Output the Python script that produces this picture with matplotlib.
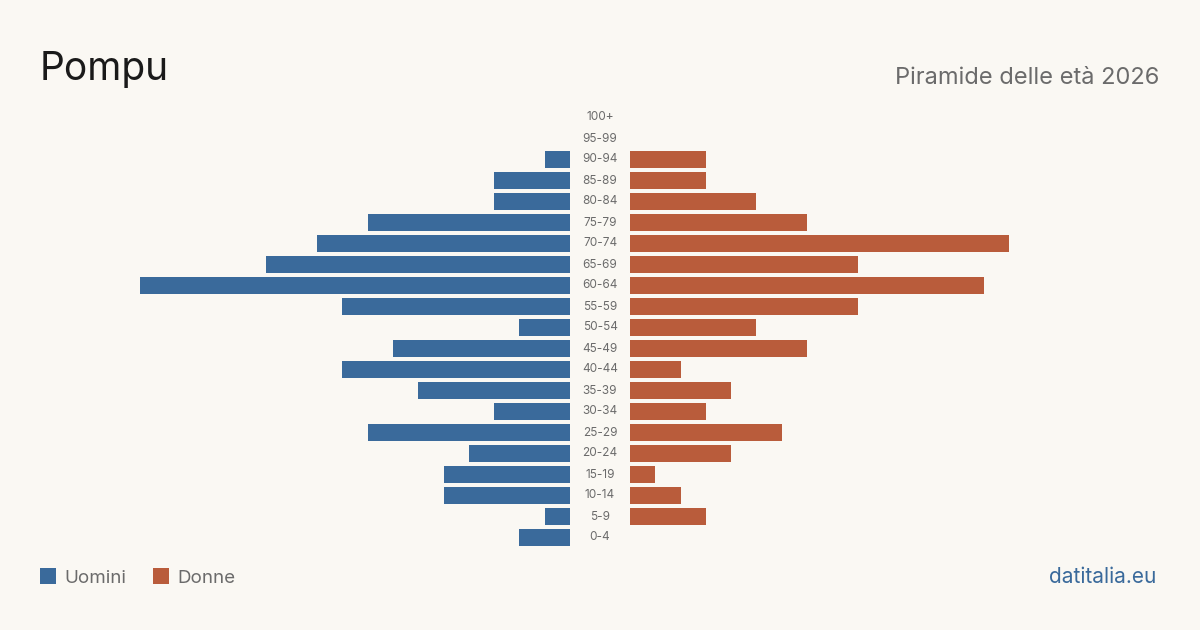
import matplotlib
matplotlib.use("Agg")
import matplotlib.pyplot as plt
from matplotlib.patches import Rectangle

age_groups = ["0-4", "5-9", "10-14", "15-19", "20-24", "25-29", "30-34", "35-39",
              "40-44", "45-49", "50-54", "55-59", "60-64", "65-69", "70-74", "75-79",
              "80-84", "85-89", "90-94", "95-99", "100+"]
men = [2, 1, 5, 5, 4, 8, 3, 6, 9, 7, 2, 9, 17, 12, 10, 8, 3, 3, 1, 0, 0]
women = [0, 3, 2, 1, 4, 6, 3, 4, 2, 7, 5, 9, 14, 9, 15, 7, 5, 3, 3, 0, 0]

BG = "#faf8f3"
BLUE = "#3a6a9b"
ORANGE = "#b95c3b"
GRAY = "#6b6b6b"

plt.rcParams['font.family'] = ['Inter', 'DejaVu Sans']

W, H = 1200, 630
fig = plt.figure(figsize=(12, 6.3), dpi=100, facecolor=BG)

def fx(px):
    return px / W

def fy(py):
    return 1 - py / H

n = len(age_groups)
top, bottom = 106.5, 106.5 + 21 * n
vmax = max(max(men), max(women))

axL = fig.add_axes([fx(140), fy(bottom), fx(570 - 140), (bottom - top) / H])
axR = fig.add_axes([fx(630), fy(bottom), fx(1060 - 630), (bottom - top) / H])
ypos = list(range(n))
axL.barh(ypos, men, height=17 / 21, color=BLUE)
axR.barh(ypos, women, height=17 / 21, color=ORANGE)
axL.set_xlim(vmax, 0)
axR.set_xlim(0, vmax)
for ax in (axL, axR):
    ax.set_ylim(-0.5, n - 0.5)
    ax.axis("off")
    ax.set_facecolor("none")

# age labels centered between the two halves
for i, lab in enumerate(age_groups):
    y_px = top + 21 * (n - 1 - i) + 11
    fig.text(fx(600), fy(y_px), lab, ha="center", va="center", fontsize=8.5, color=GRAY)

fig.text(fx(40), fy(80), "Pompu", ha="left", va="baseline", fontsize=28, color="#1a1a1a")
fig.text(fx(1159), fy(84), "Piramide delle età 2026", ha="right", va="baseline",
         fontsize=17, color=GRAY)

# legend
fig.patches.append(Rectangle((fx(40), fy(584)), fx(16), 16 / H, transform=fig.transFigure,
                             facecolor=BLUE, edgecolor="none"))
fig.text(fx(64), fy(583), "Uomini", ha="left", va="baseline", fontsize=13.5, color=GRAY)
fig.patches.append(Rectangle((fx(153), fy(584)), fx(16), 16 / H, transform=fig.transFigure,
                             facecolor=ORANGE, edgecolor="none"))
fig.text(fx(177), fy(583), "Donne", ha="left", va="baseline", fontsize=13.5, color=GRAY)

fig.text(fx(1156), fy(583), "datitalia.eu", ha="right", va="baseline", fontsize=15, color=BLUE)

fig.savefig("out.png", dpi=100, facecolor=BG)
